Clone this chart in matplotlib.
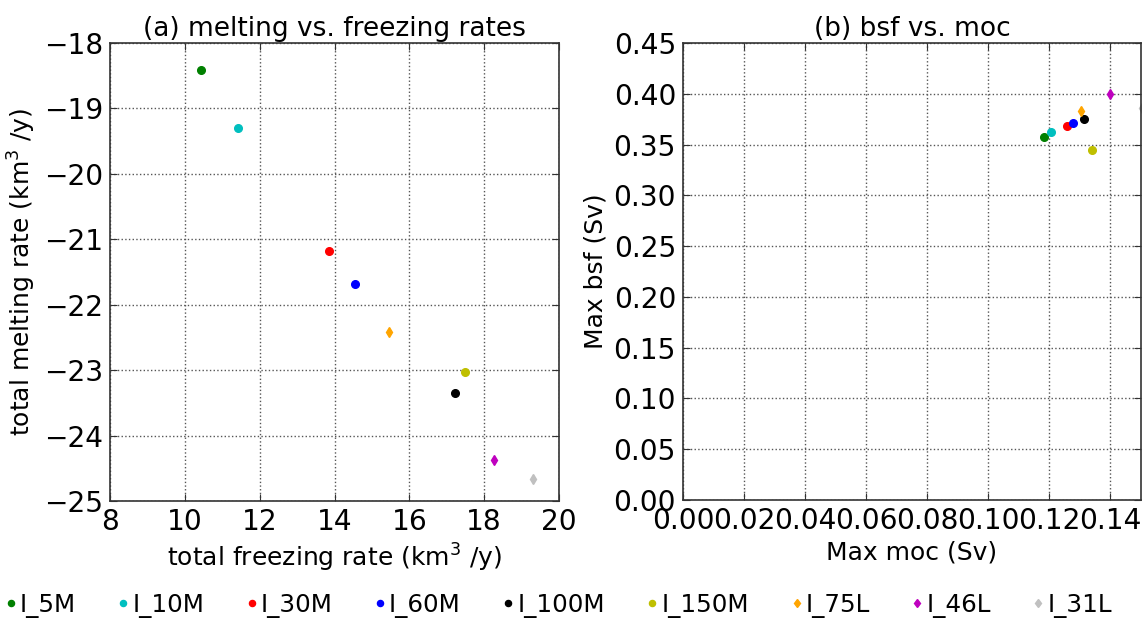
import matplotlib
matplotlib.use("Agg")
import matplotlib.pyplot as plt
from matplotlib.ticker import FormatStrFormatter, MultipleLocator

# ── Data ──────────────────────────────────────────────────
runs    = ["I_5M", "I_10M", "I_30M", "I_60M", "I_100M", "I_150M", "I_75L", "I_46L", "I_31L"]
colors  = ["#008000", "#00bfbf", "#ff0000", "#0000ff", "#000000", "#bfbf00", "#ffa500", "#bf00bf", "#c0c0c0"]
markers = ["o", "o", "o", "o", "o", "o", "d", "d", "d"]

freezing = [10.44, 11.42, 13.84, 14.54, 17.21, 17.49, 15.45, 18.27, 19.30]
melting  = [-18.41, -19.30, -21.18, -21.69, -23.35, -23.03, -22.42, -24.38, -24.66]

max_moc = [0.1181, 0.1205, 0.1258, 0.1276, 0.1314, 0.1341, 0.1302, 0.1400, 0.1503]
max_bsf = [0.3578, 0.3625, 0.3680, 0.3710, 0.3752, 0.3445, 0.3833, 0.4000, 0.3857]

TICK_FS  = 20.2
TITLE_FS = 19
LABEL_FS = 18
LEG_FS   = 17.7

plt.rcParams.update({
    "font.family": "DejaVu Sans",
    "mathtext.default": "regular",
    "xtick.direction": "in",
    "ytick.direction": "in",
    "xtick.top": True,
    "ytick.right": True,
    "xtick.major.size": 5,
    "ytick.major.size": 5,
    "xtick.major.pad": 5,
    "ytick.major.pad": 5,
    "axes.linewidth": 1.2,
    "axes.edgecolor": "#333333",
})

fig = plt.figure(figsize=(11.44, 6.18), dpi=100)
ax1 = fig.add_axes([0.0962, 0.1893, 0.3924, 0.7411])
ax2 = fig.add_axes([0.5970, 0.1909, 0.4004, 0.7395])

handles = []
for i in range(len(runs)):
    h, = ax1.plot(freezing[i], melting[i], linestyle="none", marker=markers[i],
                  color=colors[i], markeredgecolor=colors[i], markersize=5.5,
                  label=runs[i], clip_on=False)
    ax2.plot(max_moc[i], max_bsf[i], linestyle="none", marker=markers[i],
             color=colors[i], markeredgecolor=colors[i], markersize=5.5)
    handles.append(h)

# ── (a) ───────────────────────────────────────────────────
ax1.set_xlim(8, 20)
ax1.set_ylim(-25, -18)
ax1.xaxis.set_major_locator(MultipleLocator(2))
ax1.yaxis.set_major_locator(MultipleLocator(1))
ax1.set_title("(a) melting vs. freezing rates", fontsize=TITLE_FS, pad=5)
ax1.set_xlabel("total freezing rate (km$^3$ /y)", fontsize=LABEL_FS)
ax1.set_ylabel("total melting rate (km$^3$ /y)", fontsize=LABEL_FS)

# ── (b) ───────────────────────────────────────────────────
ax2.set_xlim(0, 0.15)
ax2.set_ylim(0, 0.45)
ax2.xaxis.set_major_locator(MultipleLocator(0.02))
ax2.yaxis.set_major_locator(MultipleLocator(0.05))
ax2.xaxis.set_major_formatter(FormatStrFormatter("%.2f"))
ax2.yaxis.set_major_formatter(FormatStrFormatter("%.2f"))
ax2.set_title("(b) bsf vs. moc", fontsize=TITLE_FS, pad=5)
ax2.set_xlabel("Max moc (Sv)", fontsize=LABEL_FS)
ax2.set_ylabel("Max bsf (Sv)", fontsize=LABEL_FS)

for ax in (ax1, ax2):
    ax.grid(True, color="#555555", linestyle=":", linewidth=1.0)
    ax.tick_params(labelsize=TICK_FS, colors="#333333", labelcolor="black")

fig.legend(handles=handles, loc="center left", bbox_to_anchor=(0.005, 0.021),
           ncol=9, frameon=False, numpoints=1, markerscale=0.8,
           handlelength=0.4, handletextpad=0.16, columnspacing=1.74,
           borderaxespad=0, borderpad=0, fontsize=LEG_FS)

fig.savefig("out.png", dpi=100)
